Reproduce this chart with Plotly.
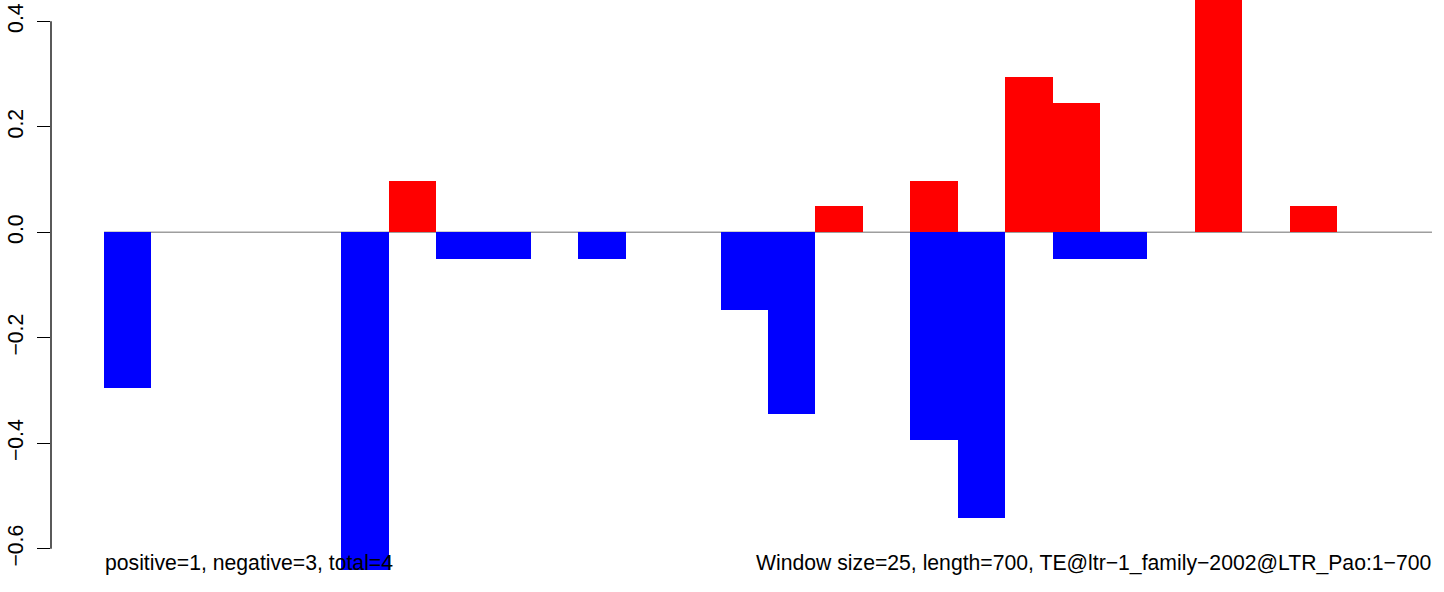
import plotly.graph_objects as go

# Data
window_size = 25
seq_length = 700
window_starts = list(range(0, 700, 25))  # 28 windows
positive_vals = [None, None, None, None, None, None, 0.098, None, None, None,
                 None, None, None, None, None, 0.049, None, 0.098, None, 0.295,
                 0.245, None, None, 0.49, None, 0.049, None, None]
negative_vals = [-0.295, None, None, None, None, -0.64, None, -0.05, -0.05, None,
                 -0.05, None, None, -0.148, -0.345, None, None, -0.394, -0.542, None,
                 -0.05, -0.05, None, None, None, None, None, None]
y_ticks = [-0.6, -0.4, -0.2, 0.0, 0.2, 0.4]
y_tick_labels = ["\u22120.6", "\u22120.4", "\u22120.2", "0.0", "0.2", "0.4"]
left_text = "positive=1, negative=3, total=4"
right_text = "Window size=25, length=700, TE@ltr\u22121_family\u22122002@LTR_Pao:1\u2212700"

centers = [s + window_size / 2 for s in window_starts]
FONT = "Liberation Sans, Arial, Helvetica, sans-serif"
FS = 21.2

fig = go.Figure()
fig.add_trace(go.Bar(x=centers, y=positive_vals, width=window_size,
                     marker=dict(color="#FF0000", line=dict(width=0)),
                     showlegend=False, hoverinfo="skip"))
fig.add_trace(go.Bar(x=centers, y=negative_vals, width=window_size,
                     marker=dict(color="#0000FF", line=dict(width=0)),
                     showlegend=False, hoverinfo="skip"))

# zero line
fig.add_shape(type="line", xref="x", yref="y", x0=0, x1=seq_length, y0=0, y1=0,
              line=dict(color="#9E9E9E", width=1.5), layer="below")
# y axis line (only tick span, as in R)
fig.add_shape(type="line", xref="paper", yref="y", x0=0, x1=0,
              y0=y_ticks[0], y1=y_ticks[-1],
              line=dict(color="black", width=1.3))

fig.add_annotation(x=0, y=-0.627, xref="x", yref="y", text=left_text,
                   showarrow=False, xanchor="left", yanchor="middle",
                   font=dict(family=FONT, size=FS, color="black"), borderpad=0)
fig.add_annotation(x=seq_length, y=-0.627, xref="x", yref="y", text=right_text,
                   showarrow=False, xanchor="right", yanchor="middle",
                   font=dict(family=FONT, size=FS, color="black"), borderpad=0)

fig.update_layout(
    width=1444, height=592,
    margin=dict(l=51, r=0, t=0, b=0, autoexpand=False),
    plot_bgcolor="white", paper_bgcolor="white",
    barmode="overlay", bargap=0,
    xaxis=dict(range=[-27.94, 706.33], visible=False, showgrid=False, zeroline=False,
               automargin=False),
    yaxis=dict(range=[-0.6818, 0.4404], showgrid=False, zeroline=False, showline=False,
               automargin=False,
               tickvals=y_ticks, ticktext=y_tick_labels, ticks="outside",
               ticklen=13, tickwidth=1.3, tickcolor="black", tickangle=-90,
               ticklabelstandoff=6,
               tickfont=dict(family=FONT, size=FS, color="black")),
)

fig.write_html("out.html",
               config={"displayModeBar": False},
               post_script="document.body.style.margin='0px';document.body.style.overflow='hidden';")
